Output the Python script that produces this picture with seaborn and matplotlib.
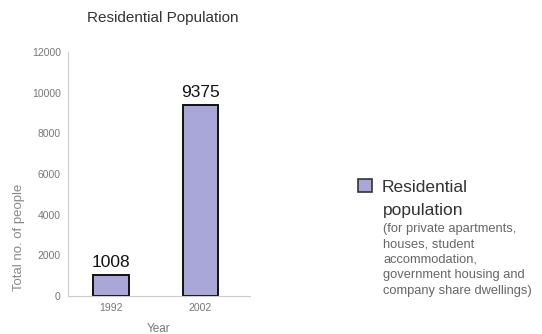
import numpy as np
import pandas as pd
import matplotlib
matplotlib.use("Agg")
import matplotlib.pyplot as plt
from matplotlib.patches import Patch
import seaborn as sns

# Data
years = ["1992", "2002"]
population = [1008, 9375]
y_ticks = [0, 2000, 4000, 6000, 8000, 10000, 12000]
legend_title = "Residential"
legend_title2 = "population"
legend_note = ("(for private apartments,\nhouses, student\naccommodation,\n"
               "government housing and\ncompany share dwellings)")

bar_color = "#a9a7d8"

sns.set_theme(style="white")
plt.rcParams['font.family'] = ['Liberation Sans', 'DejaVu Sans']

df = pd.DataFrame({"Year": years, "People": population})

fig = plt.figure(figsize=(5.42, 3.34), dpi=100)
ax = fig.add_axes([0.125, 0.114, 0.336, 0.73])

sns.barplot(data=df, x="Year", y="People", color=bar_color, width=0.4,
            edgecolor="#111111", linewidth=1.4, saturation=1, ax=ax)

ax.set_xlim(-0.48, 1.55)
ax.set_ylim(0, 12000)
ax.set_yticks(y_ticks)
ax.tick_params(axis="both", labelsize=7.5, colors="#777777", length=0, pad=5)
for s in ["top", "right"]:
    ax.spines[s].set_visible(False)
for s in ["left", "bottom"]:
    ax.spines[s].set_color("#cccccc")
    ax.spines[s].set_linewidth(0.8)

for i, v in enumerate(population):
    ax.text(i, v + 250, str(v), ha="center", va="bottom", fontsize=12.5, color="#111111")

ax.set_xlabel("Year", fontsize=8.5, color="#777777", labelpad=7)
ax.set_ylabel("Total no. of people", fontsize=9.5, color="#888888")
ax.yaxis.set_label_coords(-0.235, 0.24)

fig.text(0.30, 0.945, "Residential Population", ha="center", va="center",
         fontsize=11, color="#333333")

fig.legend(handles=[Patch(facecolor=bar_color, edgecolor="#333333", linewidth=1.2)],
           labels=[legend_title], loc="center left", bbox_to_anchor=(0.66, 0.44),
           frameon=False, fontsize=12.5, handlelength=0.8, handleheight=0.8,
           handletextpad=0.6, borderpad=0, borderaxespad=0, labelcolor="#333333")
fig.text(0.707, 0.371, legend_title2, ha="left", va="center", fontsize=12.5, color="#333333")
fig.text(0.707, 0.332, legend_note, ha="left", va="top", fontsize=9.3,
         color="#666666", linespacing=1.38)

fig.savefig("out.png", dpi=100)
